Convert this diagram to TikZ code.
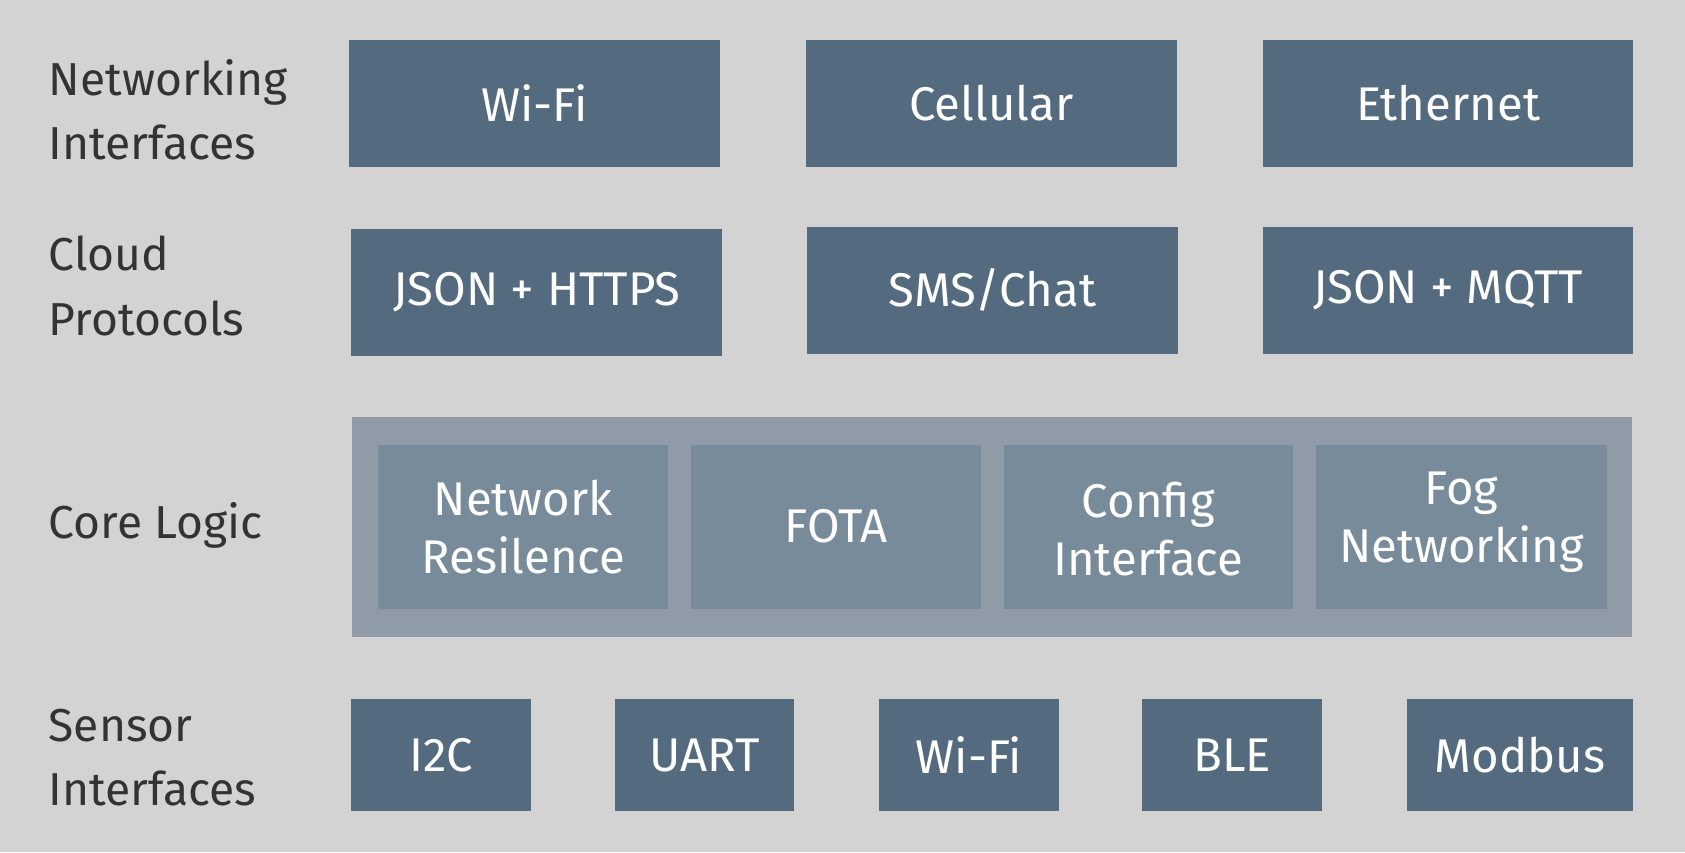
\documentclass[tikz,border=0pt]{standalone}
\usepackage{fontspec}
\setmainfont{Fira Sans}
\definecolor{bg}{HTML}{D3D3D3}
\definecolor{dark}{HTML}{546B7F}
\definecolor{outer}{HTML}{8F9CA8}
\definecolor{inner}{HTML}{788B9B}
\definecolor{lab}{HTML}{333333}
\begin{document}
\begin{tikzpicture}[x=0.5pt,y=-0.5pt,
  box/.style={fill=dark,text=white,font=\fontsize{22}{27}\selectfont,align=center,inner sep=0pt},
  ibox/.style={fill=inner,text=white,font=\fontsize{22}{27}\selectfont,align=center,inner sep=0pt},
  lbl/.style={text=lab,font=\fontsize{21.5}{30}\selectfont,align=left,anchor=west,inner sep=0pt}]
\fill[bg] (0,0) rectangle (1568,793);
\useasboundingbox (0,0) rectangle (1568,793);
\newcommand{\bx}[7]{\fill[#6] (#1,#2) rectangle (#3,#4); \node[#7] (#5) at ({(#1+#3)/2},{(#2+#4)/2}) {\strut\ignorespaces};}
% networking
\fill[dark] (325,37) rectangle (670,155); \node[box] (nw1) at (497.5,96) {Wi-Fi};
\fill[dark] (750,37) rectangle (1095,155); \node[box] (nw2) at (922.5,96) {Cellular};
\fill[dark] (1175,37) rectangle (1520,155); \node[box] (nw3) at (1347.5,96) {Ethernet};
% cloud
\fill[dark] (327,213) rectangle (672,331); \node[box] (cp1) at (499.5,272) {JSON + HTTPS};
\fill[dark] (751,211) rectangle (1096,329); \node[box] (cp2) at (923.5,270) {SMS/Chat};
\fill[dark] (1175,211) rectangle (1520,329); \node[box] (cp3) at (1347.5,270) {JSON + MQTT};
% core
\fill[outer] (328,388) rectangle (1519,593);
\fill[inner] (352,414) rectangle (622,567); \node[ibox] (cl1) at (487,490) {Network\\Resilence};
\fill[inner] (643,414) rectangle (913,567); \node[ibox] (cl2) at (778,490) {FOTA};
\fill[inner] (934,414) rectangle (1203,567); \node[ibox] (cl3) at (1068.5,492) {Config\\Interface};
\fill[inner] (1225,414) rectangle (1495,567); \node[ibox] (cl4) at (1360,486) {Fog\\Networking};
% sensors
\fill[dark] (327,650) rectangle (494,755); \node[box] (s1) at (410.5,703) {I2C};
\fill[dark] (572,650) rectangle (739,755); \node[box] (s2) at (655.5,703) {UART};
\fill[dark] (818,650) rectangle (985,755); \node[box] (s3) at (901.5,703) {Wi-Fi};
\fill[dark] (1063,650) rectangle (1230,755); \node[box] (s4) at (1146.5,703) {BLE};
\fill[dark] (1309,650) rectangle (1520,755); \node[box] (s5) at (1414.5,703) {Modbus};
% labels
\node[lbl] (l1) at (45,102) {Networking\\Interfaces};
\node[lbl] (l2) at (45,266) {Cloud\\Protocols};
\node[lbl] (l3) at (45,489) {Core Logic};
\node[lbl] (l4) at (45,705) {Sensor\\Interfaces};
\end{tikzpicture}
\end{document}
